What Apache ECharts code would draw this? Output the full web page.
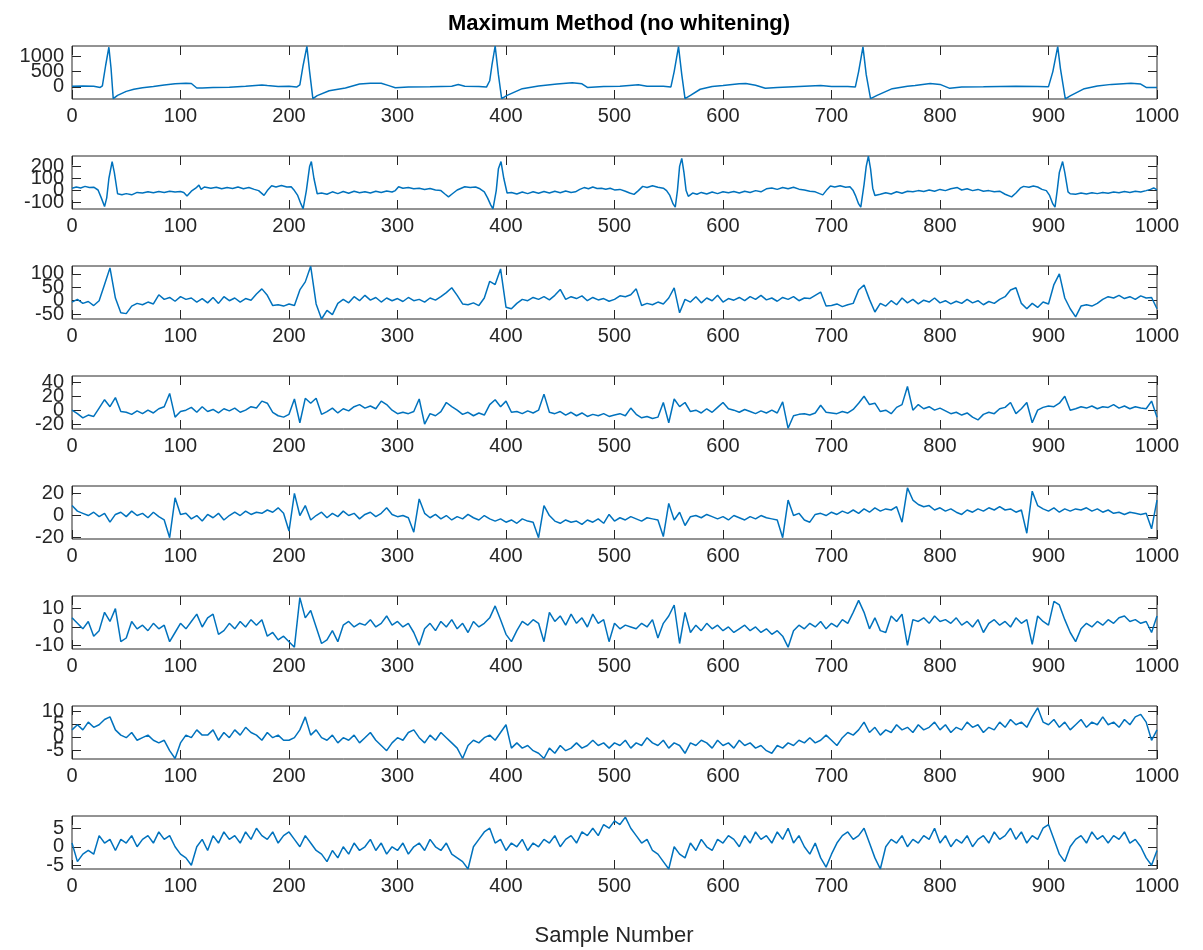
<!DOCTYPE html>
<html>
<head>
<meta charset="utf-8">
<title>Maximum Method (no whitening)</title>
<script src="https://cdn.jsdelivr.net/npm/echarts@6/dist/echarts.min.js"></script>
<style>
  html, body { margin: 0; padding: 0; background: #ffffff; }
  #chart { width: 1203px; height: 950px; }
</style>
</head>
<body>
<div id="chart"></div>
<script>
// ---- Data -------------------------------------------------------------
const titleText = 'Maximum Method (no whitening)';
const xAxisTitle = 'Sample Number';
const xTicks = [0, 100, 200, 300, 400, 500, 600, 700, 800, 900, 1000];

// Components 1 and 2: [sample, value] pairs (spiky, sampled densely around beats)
const comp1 = [
  [0,20],[10,25],[20,18],[26,-20],[28,30],[31,700],[34,1300],[36,600],[38,-390],[42,-280],[50,-150],[57,-80],[65,-30],[75,10],[85,60],[95,100],[105,120],[110,110],[115,-40],[120,-40],[130,-25],[145,-15],[160,20],[175,60],[180,40],[190,10],[200,15],[207,-10],[210,60],[213,700],[216.5,1330],[219,500],[222,-390],[226,-290],[237,-130],[252,-40],[265,90],[275,120],[285,115],[292,40],[298,-30],[310,-5],[330,0],[350,20],[356,75],[362,20],[375,10],[382,-10],[385,200],[387,700],[390,1340],[393,400],[396,-390],[401,-280],[415,-60],[430,30],[447,90],[461,130],[470,100],[475,-20],[490,10],[505,15],[522,70],[530,20],[545,15],[552,-5],[555,500],[559,1320],[562,400],[565,-390],[570,-280],[579,-80],[590,10],[600,40],[615,100],[621,110],[630,50],[639,-50],[650,-20],[670,10],[690,40],[700,10],[715,10],[722,-5],[725,500],[729,1310],[732,400],[736,-390],[742,-280],[756,-60],[770,20],[777,40],[791,110],[800,80],[809,-50],[820,-10],[840,0],[870,20],[890,10],[900,5],[904,500],[908.5,1320],[911,600],[915.5,-395],[920,-300],[933,-60],[945,30],[958,80],[976,120],[985,90],[990,-20],[1000,-20]
];
const comp2 = [
  [0,19],[4,30],[8,22],[12,35],[16,25],[20,28],[24,5],[27,-60],[30,-132],[32,-60],[34,100],[37,240],[39,150],[42,-26],[46,-35],[50,-25],[55,-35],[60,-15],[65,-20],[70,-10],[75,-18],[80,-8],[85,-15],[90,-5],[95,-12],[100,-8],[103,-15],[106,-45],[110,-5],[114,20],[117,45],[119,10],[122,30],[128,20],[133,28],[138,15],[143,25],[148,18],[153,30],[158,15],[163,25],[168,10],[172,0],[177,-39],[180,0],[184,40],[188,30],[193,42],[198,30],[202,32],[205,0],[208,-40],[211,-110],[213,-150],[216,0],[219,200],[220.6,240],[223,100],[226,-26],[230,-20],[235,-30],[240,-10],[245,-25],[250,-8],[255,-22],[260,-5],[265,-18],[270,-10],[275,-20],[280,-5],[285,-15],[290,-3],[295,-12],[298,0],[301,32],[305,20],[310,25],[315,15],[320,20],[325,10],[330,18],[335,5],[340,0],[344,-30],[347,-52],[350,-30],[355,5],[362,32],[367,25],[372,30],[376,15],[380,-10],[383,-60],[386,-120],[388,-150],[391,0],[393,180],[395.4,240],[398,100],[401,-20],[405,-15],[410,-28],[415,-12],[420,-25],[425,-10],[430,-22],[435,-8],[440,-20],[445,-5],[450,-18],[455,-3],[460,-15],[464,-10],[468,10],[472,25],[476,15],[480,30],[484,18],[488,20],[492,12],[496,20],[500,6],[505,10],[510,-5],[514,-20],[518,-31],[522,0],[526,35],[530,25],[535,40],[540,28],[545,20],[548,0],[551,-40],[554,-110],[556,-137],[558,0],[560,200],[562,266],[564,150],[566,0],[568,-47],[572,-20],[576,-30],[580,-15],[585,-28],[590,-12],[595,-25],[600,-10],[605,-18],[610,-8],[615,-20],[620,-5],[625,-15],[630,0],[635,-10],[640,15],[645,22],[650,10],[655,25],[660,15],[665,28],[670,12],[675,5],[680,-5],[685,-10],[689,-25],[692,-35],[696,10],[699,38],[703,30],[708,40],[713,28],[717,32],[720,0],[722,-39],[725,-110],[727,-137],[730,50],[732,200],[734,284],[736,180],[738,20],[740,-40],[745,-30],[750,-18],[755,-28],[760,-10],[765,-22],[770,-5],[775,-10],[780,0],[785,-8],[790,5],[795,-5],[800,10],[805,0],[810,15],[816,25],[820,5],[825,15],[830,0],[835,10],[840,-5],[845,0],[850,-10],[855,-5],[860,-30],[866,-52],[870,-20],[874,20],[877,35],[882,28],[886,38],[890,30],[894,10],[898,0],[901,-40],[904,-110],[906,-137],[908,0],[910,150],[913,240],[915,150],[918,-10],[920,-26],[925,-30],[930,-20],[935,-28],[940,-18],[945,-25],[950,-15],[955,-22],[960,-12],[965,-18],[970,-8],[975,-15],[980,-5],[985,-12],[990,0],[994,10],[997,22],[1000,6]
];

// Components 3..8: one value every 5 samples, from sample 0 to 1000
const sampleStep = 5;
const comp3 = [
  -5,5,-10,-3,-18,0,60,122,10,-45,-48,-20,-10,-15,-5,-12,22,5,12,-2,
  15,5,10,-5,8,-8,12,-10,15,0,10,-5,8,2,25,44,20,-18,-15,-20,
  -12,-18,40,70,128,-12,-68,-36,-52,-10,5,-8,15,0,20,2,12,-5,10,0,
  8,-3,12,0,5,-5,10,2,15,30,48,20,-12,-15,-8,-18,10,72,60,118,
  -24,-30,-10,5,0,12,5,15,3,20,42,5,15,8,18,0,12,3,8,-2,
  5,18,15,22,44,-18,-10,-15,-5,-12,10,48,-45,5,-5,15,-8,10,0,20,
  -5,8,2,12,0,15,5,20,3,10,-2,12,5,15,0,10,8,20,32,-20,
  -18,-12,-22,-15,-10,40,58,5,-42,-10,-20,0,-15,10,-8,5,-12,2,-5,10,
  -8,0,-12,-2,-10,5,-8,0,-15,-3,-10,5,15,40,48,-10,-30,-10,-25,-5,
  -12,60,100,10,-30,-60,-20,-15,-20,-10,5,15,10,20,8,15,5,18,10,12,
  -30
];
const comp4 = [
  0,-5,-11,-7,-9,3,15,5,18,-2,-3,-6,-1,-5,0,-4,2,5,24,-10,
  -2,0,4,-3,5,-2,1,-4,2,-1,3,-3,0,5,3,13,10,-3,-8,-10,
  -6,16,-18,17,10,17,-6,-2,3,-4,2,-1,5,8,3,6,2,13,8,0,
  -5,-3,-5,-2,16,-20,-5,-8,-2,11,5,0,-6,-3,-8,-4,-7,8,15,5,
  13,-3,-2,-5,-1,-4,0,23,-3,-5,-2,-7,-3,-8,-4,-9,-6,-8,-5,-9,
  -7,-5,-8,3,-6,-11,-9,-12,-10,11,-18,16,5,11,-2,0,-4,2,-3,4,
  11,2,0,-3,1,-2,-5,-1,-4,0,-4,12,-26,-8,-6,-5,-7,-4,7,-3,
  -4,-5,-2,-4,1,10,20,8,10,-2,0,-5,4,8,34,0,8,2,5,0,
  3,-1,-5,-3,-7,-4,-10,-14,-6,-3,-5,2,4,11,-5,2,11,-18,0,4,
  6,5,10,20,0,2,5,3,6,2,5,4,8,3,6,2,5,3,2,13,
  -10
];
const comp5 = [
  9,4,2,0,3,-1,2,-6,1,3,-1,4,0,2,-2,3,-1,-4,-20,16,
  1,2,-3,0,-5,1,-2,2,-4,0,3,0,4,1,3,2,5,3,7,2,
  -14,20,0,9,-4,0,3,-2,2,-1,4,0,2,-3,1,3,-1,2,7,1,
  -1,0,-2,-15,15,2,-2,1,-3,0,-4,-1,-3,1,-2,-4,0,-3,-5,-3,
  -6,-4,-7,-3,-5,-6,-20,9,0,-5,-7,-4,-6,-5,-8,-4,-6,-3,-7,1,
  -5,-2,-4,-1,-3,-5,-2,-3,-4,-19,11,-4,3,-9,-1,0,-2,1,-1,-3,
  -1,-4,0,-2,-4,-1,-3,0,-2,-3,-4,-20,14,0,2,-4,-6,1,2,0,
  3,1,4,2,5,2,6,3,7,4,6,5,8,-6,25,14,10,8,9,5,
  7,4,6,3,1,5,3,6,4,7,5,8,5,6,3,5,-16,22,9,6,
  4,7,3,6,4,6,5,7,4,6,3,5,2,3,1,3,2,1,2,-12,
  14
];
const comp6 = [
  5,2,-1,3,-5,-2,8,3,10,-8,-6,3,-1,1,-2,2,-1,1,-8,-3,
  2,-1,3,7,0,5,7,-4,-2,2,-1,3,0,4,1,4,-5,-3,-7,-5,
  -8,-11,16,5,9,0,-9,-7,-2,-8,1,3,0,2,1,4,0,2,6,1,
  3,0,2,-3,-10,-1,2,-2,3,0,4,-1,2,-3,3,0,2,5,11.5,4,
  -4,-8,-2,3,1,4,2,-8,8,3,6,1,7,2,5,0,7,2,4,-8,
  2,-1,1,0,-1,2,0,4,-6,2,6,12,-9,8,-3,1,-2,2,-1,1,
  -2,0,-3,-1,1,-2,0,-3,-1,-4,-2,-5,-11,-2,1,-1,2,0,3,-1,
  2,0,4,2,8,14.5,8,-1,5,-2,-3,6,3,7,-10,4,3,5,2,6,
  3,4,2,5,1,3,0,4,-3,2,4,1,3,0,5,2,4,-9.5,6,3,
  1,14,12,4,-3,-8,-1,2,0,3,1,4,2,5,6,3,4,2,3,-3,
  6
];
const comp7 = [
  3,5,3,6,4,5,7,8,3,1,0,2,-1,0,1,-1,-2,-1,-5,-8,
  -2,1,0,3,1,1,3,-1,2,0,3,1,4,2,1,-1,2,0,1,-1,
  -1,0,3,8,1,3,0,-1,1,-2,0,-1,1,-2,0,2,-1,-3,-5,-2,
  0,-1,2,3,0,-2,1,-1,2,0,-2,-4,-8,-3,-1,-2,0,1,-1,2,
  5,-4,-2,-4,-3,-5,-6,-8,-4,-6,-3,-5,-4,-2,-4,-3,-1,-3,-2,-4,
  -2,-3,-1,-4,-2,-3,0,-2,-3,-1,-4,-2,-3,-6,-2,-3,-1,-2,-4,-1,
  -3,-2,-4,-1,-3,-2,-4,-3,-5,-6,-3,-4,-2,-3,-1,-2,0,-2,-1,1,
  -1,-3,0,2,1,3,6,2,4,1,3,2,5,3,4,2,5,3,4,6,
  3,5,2,4,3,6,4,5,2,4,3,6,4,7,5,6,4,8,11.5,6,
  5,7,4,6,3,5,7,4,6,5,8,5,6,4,7,5,8,9,6,-1,
  3
];
const comp8 = [
  1,-4,-2,-1,-2,3,1,2,-1,2,1,3,0,2,3,1,4,2,3,0,
  -2,-3,-5,0,2,-1,3,1,4,2,3,1,4,2,5,3,2,4,1,3,
  4,2,0,3,1,-1,-2,-4,-1,-3,0,-2,1,-1,0,2,-1,1,-2,0,
  -1,1,-2,0,1,-1,2,0,-1,1,-2,-3,-4,-6,0,2,4,5,1,2,
  -1,1,0,2,-1,1,0,2,1,3,0,2,3,1,4,3,5,3,6,5,
  7,6,8,5,3,1,2,-1,-2,-4,-6,0,-2,-3,1,-1,2,0,-1,2,
  1,3,2,0,3,1,4,2,3,1,4,2,5,1,3,0,-2,1,-3,-5.5,
  -2,1,3,4,2,3,5,1,-3,-6,0,2,1,3,0,2,1,3,2,5,
  1,3,0,2,1,3,0,2,3,1,4,2,3,5,2,4,1,3,2,5,
  6,2,-2,-4,0,2,3,1,4,2,3,1,3,2,4,1,2,0,-3,-5,
  -1
];

// Y tick values and y limits for each panel
const yTickValues = [
  [0, 500, 1000],
  [-100, 0, 100, 200],
  [-50, 0, 50, 100],
  [-20, 0, 20, 40],
  [-20, 0, 20],
  [-10, 0, 10],
  [-5, 0, 5, 10],
  [-5, 0, 5]
];
const yLimits = [
  [-400, 1340],
  [-152, 286],
  [-68, 129],
  [-27, 49],
  [-21.2, 26.7],
  [-12, 16.9],
  [-8.2, 12.2],
  [-6, 8.3]
];

// ---- Build the option ---------------------------------------------------
const stepped = arr => arr.map((v, i) => [i * sampleStep, v]);
const panels = [comp1, comp2, stepped(comp3), stepped(comp4),
                stepped(comp5), stepped(comp6), stepped(comp7), stepped(comp8)];

const axisColor = '#262626';
const lineColor = '#0072BD';
const fontFamily = '"Liberation Sans", Arial, Helvetica, sans-serif';
const panelTop = 46, panelHeight = 53, panelPitch = 110;
const tickLen = 9;
const plain = v => String(v);

const grids = [], xAxes = [], yAxes = [], series = [];
panels.forEach((data, i) => {
  grids.push({
    left: 72, right: 46, top: panelTop + i * panelPitch, height: panelHeight,
    show: true, borderColor: axisColor, borderWidth: 1, backgroundColor: 'transparent',
    containLabel: false
  });
  const xBase = {
    type: 'value', gridIndex: i, min: 0, max: 1000, interval: 100,
    splitLine: { show: false },
    axisLine: { show: false, onZero: false },
    axisTick: { show: true, inside: true, length: tickLen, lineStyle: { color: axisColor, width: 1 } }
  };
  xAxes.push(Object.assign({}, xBase, {
    position: 'bottom',
    axisLabel: {
      show: true, margin: 7, color: axisColor, fontSize: 20, fontFamily: fontFamily,
      showMinLabel: true, showMaxLabel: true, hideOverlap: false, formatter: plain
    }
  }));
  xAxes.push(Object.assign({}, xBase, {
    position: 'top', axisLabel: { show: false }
  }));
  const yBase = {
    type: 'value', gridIndex: i, min: yLimits[i][0], max: yLimits[i][1],
    splitLine: { show: false },
    axisLine: { show: false, onZero: false }
  };
  const firstY = yAxes.length;
  // left axis: ticks only
  yAxes.push(Object.assign({}, yBase, {
    position: 'left',
    axisTick: { show: true, inside: true, length: tickLen, customValues: yTickValues[i],
                lineStyle: { color: axisColor, width: 1 } },
    axisLabel: { show: false }
  }));
  // right axis: mirrored ticks
  yAxes.push(Object.assign({}, yBase, {
    position: 'right',
    axisTick: { show: true, inside: true, length: tickLen, customValues: yTickValues[i],
                lineStyle: { color: axisColor, width: 1 } },
    axisLabel: { show: false }
  }));
  // one label per axis so overlapping tick labels all stay visible
  yTickValues[i].forEach(v => {
    yAxes.push(Object.assign({}, yBase, {
      position: 'left',
      axisTick: { show: false },
      axisLabel: {
        show: true, margin: 8, color: axisColor, fontSize: 20, fontFamily: fontFamily,
        customValues: [v], hideOverlap: false, formatter: plain
      }
    }));
  });
  series.push({
    type: 'line', xAxisIndex: 2 * i, yAxisIndex: firstY, data: data,
    showSymbol: false, symbol: 'none', clip: true,
    lineStyle: { color: lineColor, width: 1.5 },
    emphasis: { disabled: true }
  });
});

const option = {
  animation: false,
  backgroundColor: '#ffffff',
  textStyle: { fontFamily: fontFamily },
  title: {
    text: titleText, left: 614, top: 8, textAlign: 'center',
    textStyle: { fontSize: 22, fontWeight: 'bold', color: '#000000', fontFamily: fontFamily }
  },
  graphic: [{
    type: 'text', x: 614, y: 936,
    style: {
      text: xAxisTitle, fill: axisColor, fontSize: 22, fontFamily: fontFamily,
      align: 'center', verticalAlign: 'middle'
    }
  }],
  grid: grids,
  xAxis: xAxes,
  yAxis: yAxes,
  series: series
};

const chart = echarts.init(document.getElementById('chart'), null, { renderer: 'canvas' });
chart.setOption(option);
</script>
</body>
</html>
